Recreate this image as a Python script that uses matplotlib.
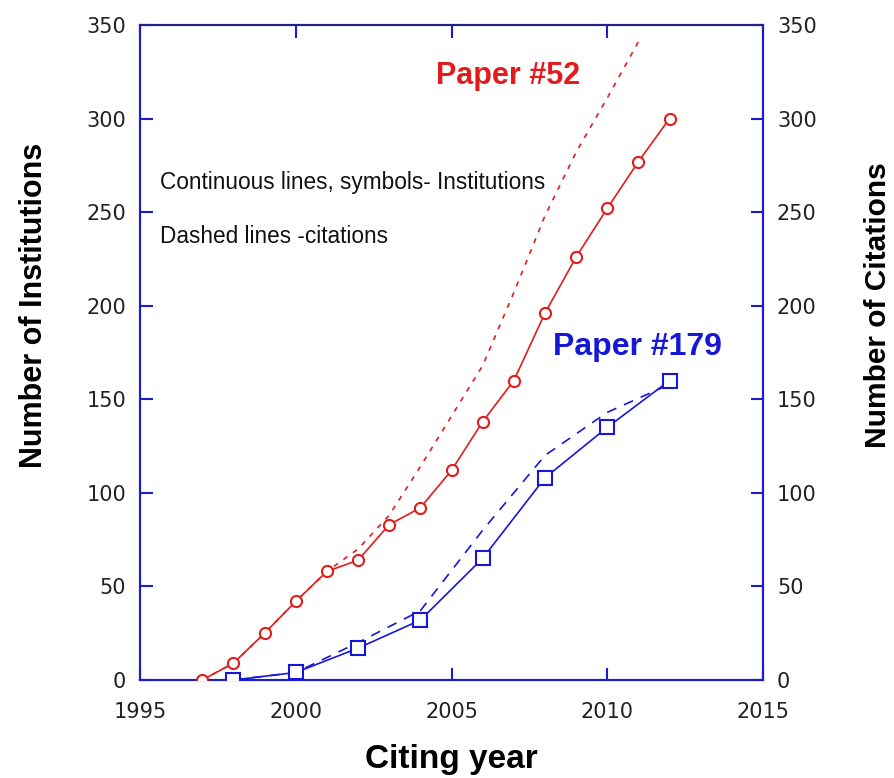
import matplotlib as mpl
mpl.use('Agg')
import matplotlib.pyplot as plt

plt.rcParams['font.family'] = ['Liberation Sans', 'DejaVu Sans']

# Paper #52 - institutions (left axis) and citations (right axis)
years52 = [1997, 1998, 1999, 2000, 2001, 2002, 2003, 2004, 2005, 2006, 2007, 2008, 2009, 2010, 2011, 2012]
inst52 = [0, 9, 25, 42, 58, 64, 83, 92, 112, 138, 160, 196, 226, 252, 277, 300]
cit_years52 = [1997, 1998, 1999, 2000, 2001, 2002, 2003, 2004, 2005, 2006, 2007, 2008, 2009, 2010, 2011]
cit52 = [0, 9, 25, 42, 58, 70, 88, 114, 141, 168, 207, 248, 282, 311, 341]

# Paper #179
years179 = [1998, 2000, 2002, 2004, 2006, 2008, 2010, 2012]
inst179 = [0, 4, 17, 32, 65, 108, 135, 160]
cit179 = [0, 4, 20, 37, 80, 120, 143, 158]

red = '#e31b1b'
blue = '#1717d6'
axcol = '#1c1cd0'

fig = plt.figure(figsize=(8.94, 7.78), dpi=100)
ax = fig.add_axes([0.1566, 0.126, 0.6969, 0.8419])
ax2 = ax.twinx()

ax.plot(years52, inst52, '-', color=red, lw=1.2, marker='o', ms=8,
        mfc='white', mec=red, mew=1.5, zorder=3)
ax.plot(years179, inst179, '-', color=blue, lw=1.2, marker='s', ms=9.5,
        mfc='white', mec=blue, mew=1.5, zorder=3)
ax2.plot(cit_years52, cit52, color=red, lw=1.2, dashes=(3, 4))
ax2.plot(years179, cit179, color=blue, lw=1.2, dashes=(6, 5))

for a in (ax, ax2):
    a.set_xlim(1995, 2015)
    a.set_ylim(0, 350)
    a.set_yticks(range(0, 351, 50))
    for s in a.spines.values():
        s.set_color(axcol)
        s.set_linewidth(1.5)
    a.tick_params(direction='in', length=9, width=1.5, color=axcol,
                  labelsize=15, labelcolor='#222222', pad=10)
    for lab in a.get_xticklabels() + a.get_yticklabels():
        lab.set_family('DejaVu Sans')
ax.spines['top'].set_color('#22228a')

ax.set_xticks(range(1995, 2016, 5))
for lab in ax.get_xticklabels():
    lab.set_family('DejaVu Sans')
ax.tick_params(axis='x', top=True, pad=16)
ax.set_zorder(ax2.get_zorder() + 1)
ax.patch.set_visible(False)

ax.set_xlabel('Citing year', fontsize=24, fontweight='bold', labelpad=16)
ax.set_ylabel('Number of Institutions', fontsize=22, fontweight='heavy', labelpad=27)
ax2.set_ylabel('Number of Citations', fontsize=21.5, fontweight='heavy', labelpad=34)
# the reference puts both axis titles above the middle of the axes
ax.yaxis.label.set_y(0.5725)
ax2.yaxis.label.set_y(0.5725)

ax.text(2004.5, 323, 'Paper #52', color=red, fontsize=22, fontweight='bold', va='center')
ax.text(2008.25, 178, 'Paper #179', color=blue, fontsize=23, fontweight='bold', va='center')
ax.text(1995.65, 266, 'Continuous lines, symbols- Institutions', fontsize=16.3, va='center', color='#111111')
ax.text(1995.65, 237, 'Dashed lines -citations', fontsize=16.3, va='center', color='#111111')

plt.savefig('out.png', dpi=100)
